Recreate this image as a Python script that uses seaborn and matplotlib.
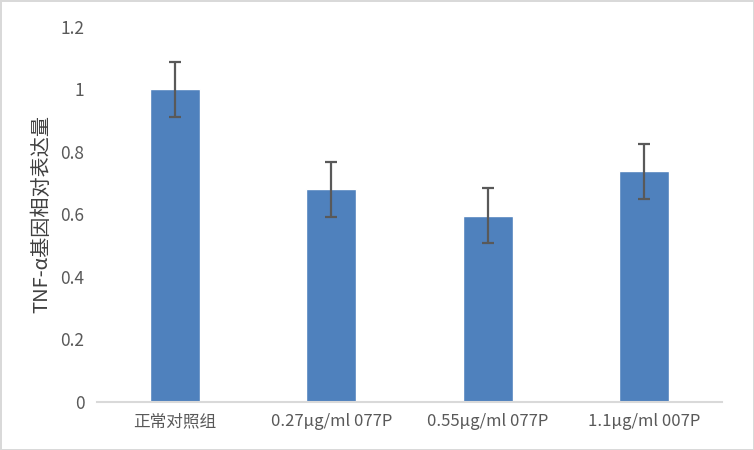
import numpy as np
import pandas as pd
import matplotlib
matplotlib.use("Agg")
import matplotlib.pyplot as plt
import seaborn as sns

# data
groups = ["正常对照组", "0.27µg/ml 077P", "0.55µg/ml 077P", "1.1µg/ml 007P"]
expression = [1.0, 0.68, 0.596, 0.738]
errors = [0.089, 0.087, 0.088, 0.088]
y_ticks = [0, 0.2, 0.4, 0.6, 0.8, 1, 1.2]
y_tick_labels = ["0", "0.2", "0.4", "0.6", "0.8", "1", "1.2"]

sns.set_style("white")
plt.rcParams["font.family"] = ["Noto Sans CJK SC", "DejaVu Sans"]

df = pd.DataFrame({"group": groups, "value": expression})

fig = plt.figure(figsize=(7.54, 4.5), dpi=100, edgecolor="#D9D9D9", linewidth=2)
ax = fig.add_axes([0.1286, 0.1067, 0.829, 0.8333])

sns.barplot(data=df, x="group", y="value", color="#4F81BD", saturation=1,
            width=0.32, errorbar=None, ax=ax)
ax.errorbar(np.arange(len(groups)), expression, yerr=errors, fmt="none",
            ecolor="#595959", elinewidth=1.6, capsize=4, capthick=1.6)

ax.set_ylim(0, 1.2)
ax.set_xlim(-0.5, len(groups) - 0.5)
ax.set_yticks(y_ticks)
ax.set_yticklabels(y_tick_labels)
ax.tick_params(axis="y", length=0, pad=9, labelsize=12.5, labelcolor="#595959")
ax.tick_params(axis="x", length=0, pad=8, labelsize=12, labelcolor="#595959")
ax.set_xlabel("")
ax.set_ylabel("TNF-α基因相对表达量", fontsize=14.5, color="#404040", labelpad=6)

for side in ["top", "right", "left"]:
    ax.spines[side].set_visible(False)
ax.spines["bottom"].set_color("#D9D9D9")
ax.spines["bottom"].set_linewidth(1.5)

fig.savefig("out.png", dpi=100, edgecolor=fig.get_edgecolor())
plt.close(fig)
